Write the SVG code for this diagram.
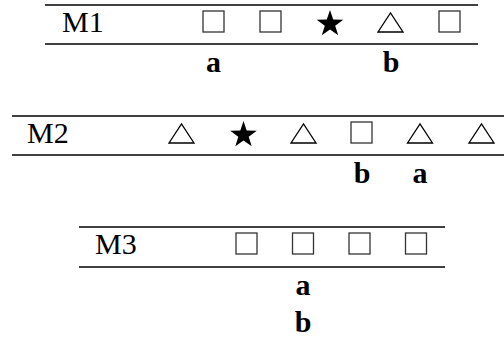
<svg xmlns="http://www.w3.org/2000/svg" width="504" height="340" viewBox="0 0 504 340">
<style>
.rule{stroke:#000;stroke-width:1.3;fill:none}
.name{font-family:"Liberation Serif",serif;font-size:30px;fill:#000}
.lab{font-family:"Liberation Serif",serif;font-size:30px;font-weight:bold;fill:#000;text-anchor:middle}
.sq{fill:none;stroke:#333;stroke-width:1.3}
.tri{fill:none;stroke:#000;stroke-width:1.3;stroke-linejoin:miter}
.star{fill:#000}
</style>
<defs>
<rect id="sq" class="sq" x="-10.5" y="6" width="21" height="21"/>
<polygon id="tri" class="tri" points="-12.5,27 12.5,27 0,8"/>
<polygon id="star" class="star" points="0,5 3.2,14.6 13.3,14.7 5.2,20.7 8.2,30.3 0,24.4 -8.2,30.3 -5.2,20.7 -13.3,14.7 -3.2,14.6"/>
</defs>
<g id="M1" transform="translate(0,5)">
<line class="rule" x1="45" y1="0" x2="478" y2="0"/>
<line class="rule" x1="45" y1="39" x2="478" y2="39"/>
<text class="name" x="62" y="27">M1</text>
<use href="#sq" x="213.5"/>
<use href="#sq" x="270.5"/>
<use href="#star" x="330"/>
<use href="#tri" x="390.5"/>
<use href="#sq" x="449.5"/>
<text class="lab" x="213.5" y="67">a</text>
<text class="lab" x="391" y="67">b</text>
</g>
<g id="M2" transform="translate(0,116)">
<line class="rule" x1="12" y1="0" x2="504" y2="0"/>
<line class="rule" x1="12" y1="39" x2="504" y2="39"/>
<text class="name" x="27" y="27">M2</text>
<use href="#tri" x="181.5"/>
<use href="#star" x="243.5"/>
<use href="#tri" x="303.5"/>
<use href="#sq" x="361.5"/>
<use href="#tri" x="420"/>
<use href="#tri" x="481.5"/>
<text class="lab" x="362" y="67">b</text>
<text class="lab" x="420" y="67">a</text>
</g>
<g id="M3" transform="translate(0,227)">
<line class="rule" x1="79" y1="0" x2="445" y2="0"/>
<line class="rule" x1="79" y1="40" x2="445" y2="40"/>
<text class="name" x="95" y="27">M3</text>
<use href="#sq" x="246.5"/>
<use href="#sq" x="303"/>
<use href="#sq" x="359.5"/>
<use href="#sq" x="416"/>
<text class="lab" x="303" y="68">a</text>
<text class="lab" x="303" y="105">b</text>
</g>
<g id="connectors"/>
</svg>
